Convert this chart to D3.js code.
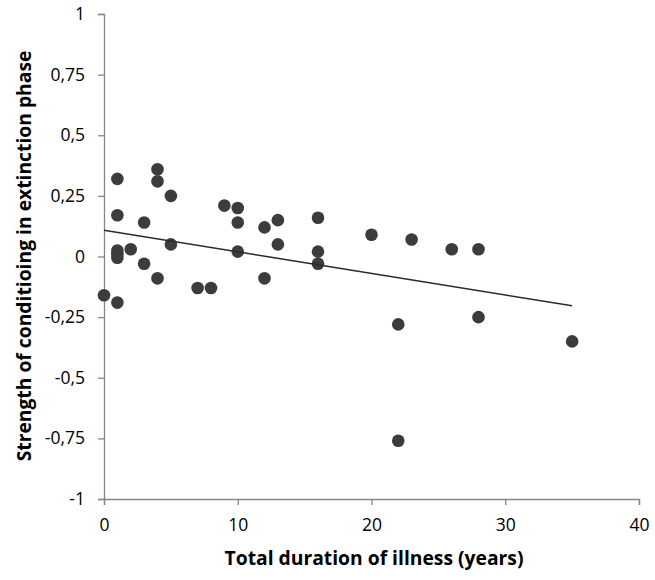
<!DOCTYPE html>
<html>
<head>
<meta charset="utf-8">
<script src="https://cdn.jsdelivr.net/npm/d3@7"></script>
<style>
  html, body { margin: 0; padding: 0; background: #fff; }
  svg { display: block; }
  text { font-family: "Open Sans", "Liberation Sans", sans-serif; fill: #000; }
</style>
</head>
<body>
<svg id="chart" width="655" height="580"></svg>
<script>
// Data
const durationYears = [0, 1, 1, 1, 1, 1, 1, 2, 3, 3, 4, 4, 4, 5, 5, 7, 8, 9, 10, 10, 10, 12, 12, 13, 13, 16, 16, 16, 20, 22, 22, 23, 26, 28, 28, 35];
const conditioning  = [-0.16, 0.32, 0.17, 0.025, 0.01, -0.005, -0.19, 0.03, 0.14, -0.03, 0.36, 0.31, -0.09, 0.25, 0.05, -0.13, -0.13, 0.21, 0.20, 0.14, 0.02, 0.12, -0.09, 0.15, 0.05, 0.16, 0.02, -0.03, 0.09, -0.28, -0.76, 0.07, 0.03, 0.03, -0.25, -0.35];
const xTicks = [0, 10, 20, 30, 40];
const yTicks = [-1, -0.75, -0.5, -0.25, 0, 0.25, 0.5, 0.75, 1];
const trendX = [0, 35];
const trendY = [0.108, -0.203];
const xTitle = "Total duration of illness (years)";
const yTitle = "Strength of conditioing in extinction phase";

const svg = d3.select("#chart");
const x = d3.scaleLinear().domain([0, 40]).range([104, 639]);
const y = d3.scaleLinear().domain([-1, 1]).range([499, 14]);
const axisColor = "#868686";
const tickFont = 17.5;

// y axis
const yAxis = svg.append("g").attr("transform", `translate(${x(0)},0)`)
  .call(d3.axisLeft(y).tickValues(yTicks).tickSize(6).tickPadding(13).tickFormat(d => String(d).replace(".", ",")));
yAxis.select(".domain").attr("stroke", axisColor).attr("stroke-width", 1.3);
yAxis.selectAll(".tick line").attr("stroke", axisColor).attr("stroke-width", 1.3);
yAxis.selectAll(".tick text").attr("font-size", tickFont).attr("font-family", "Open Sans, Liberation Sans, sans-serif").attr("fill", "#000");

// x axis
const xAxis = svg.append("g").attr("transform", `translate(0,${y(-1)})`)
  .call(d3.axisBottom(x).tickValues(xTicks).tickSize(6).tickPadding(14).tickFormat(d => String(d)));
xAxis.select(".domain").attr("stroke", axisColor).attr("stroke-width", 1.3);
xAxis.selectAll(".tick line").attr("stroke", axisColor).attr("stroke-width", 1.3);
xAxis.selectAll(".tick text").attr("font-size", tickFont).attr("font-family", "Open Sans, Liberation Sans, sans-serif").attr("fill", "#000");

// points
svg.append("g").selectAll("circle")
  .data(durationYears.map((d, i) => [d, conditioning[i]]))
  .join("circle")
  .attr("cx", d => x(d[0]))
  .attr("cy", d => y(d[1]))
  .attr("r", 6.3)
  .attr("fill", "#3c3c3c");

// trend line
svg.append("line")
  .attr("x1", x(trendX[0])).attr("y1", y(trendY[0]))
  .attr("x2", x(trendX[1])).attr("y2", y(trendY[1]))
  .attr("stroke", "#2a2a2a").attr("stroke-width", 1.5);

// titles
svg.append("text")
  .attr("x", 374).attr("y", 565)
  .attr("text-anchor", "middle")
  .attr("font-size", 19.3).attr("font-weight", "bold")
  .text(xTitle);

svg.append("text")
  .attr("transform", `translate(31,256) rotate(-90)`)
  .attr("text-anchor", "middle")
  .attr("font-size", 19.3).attr("font-weight", "bold")
  .text(yTitle);
</script>
</body>
</html>
